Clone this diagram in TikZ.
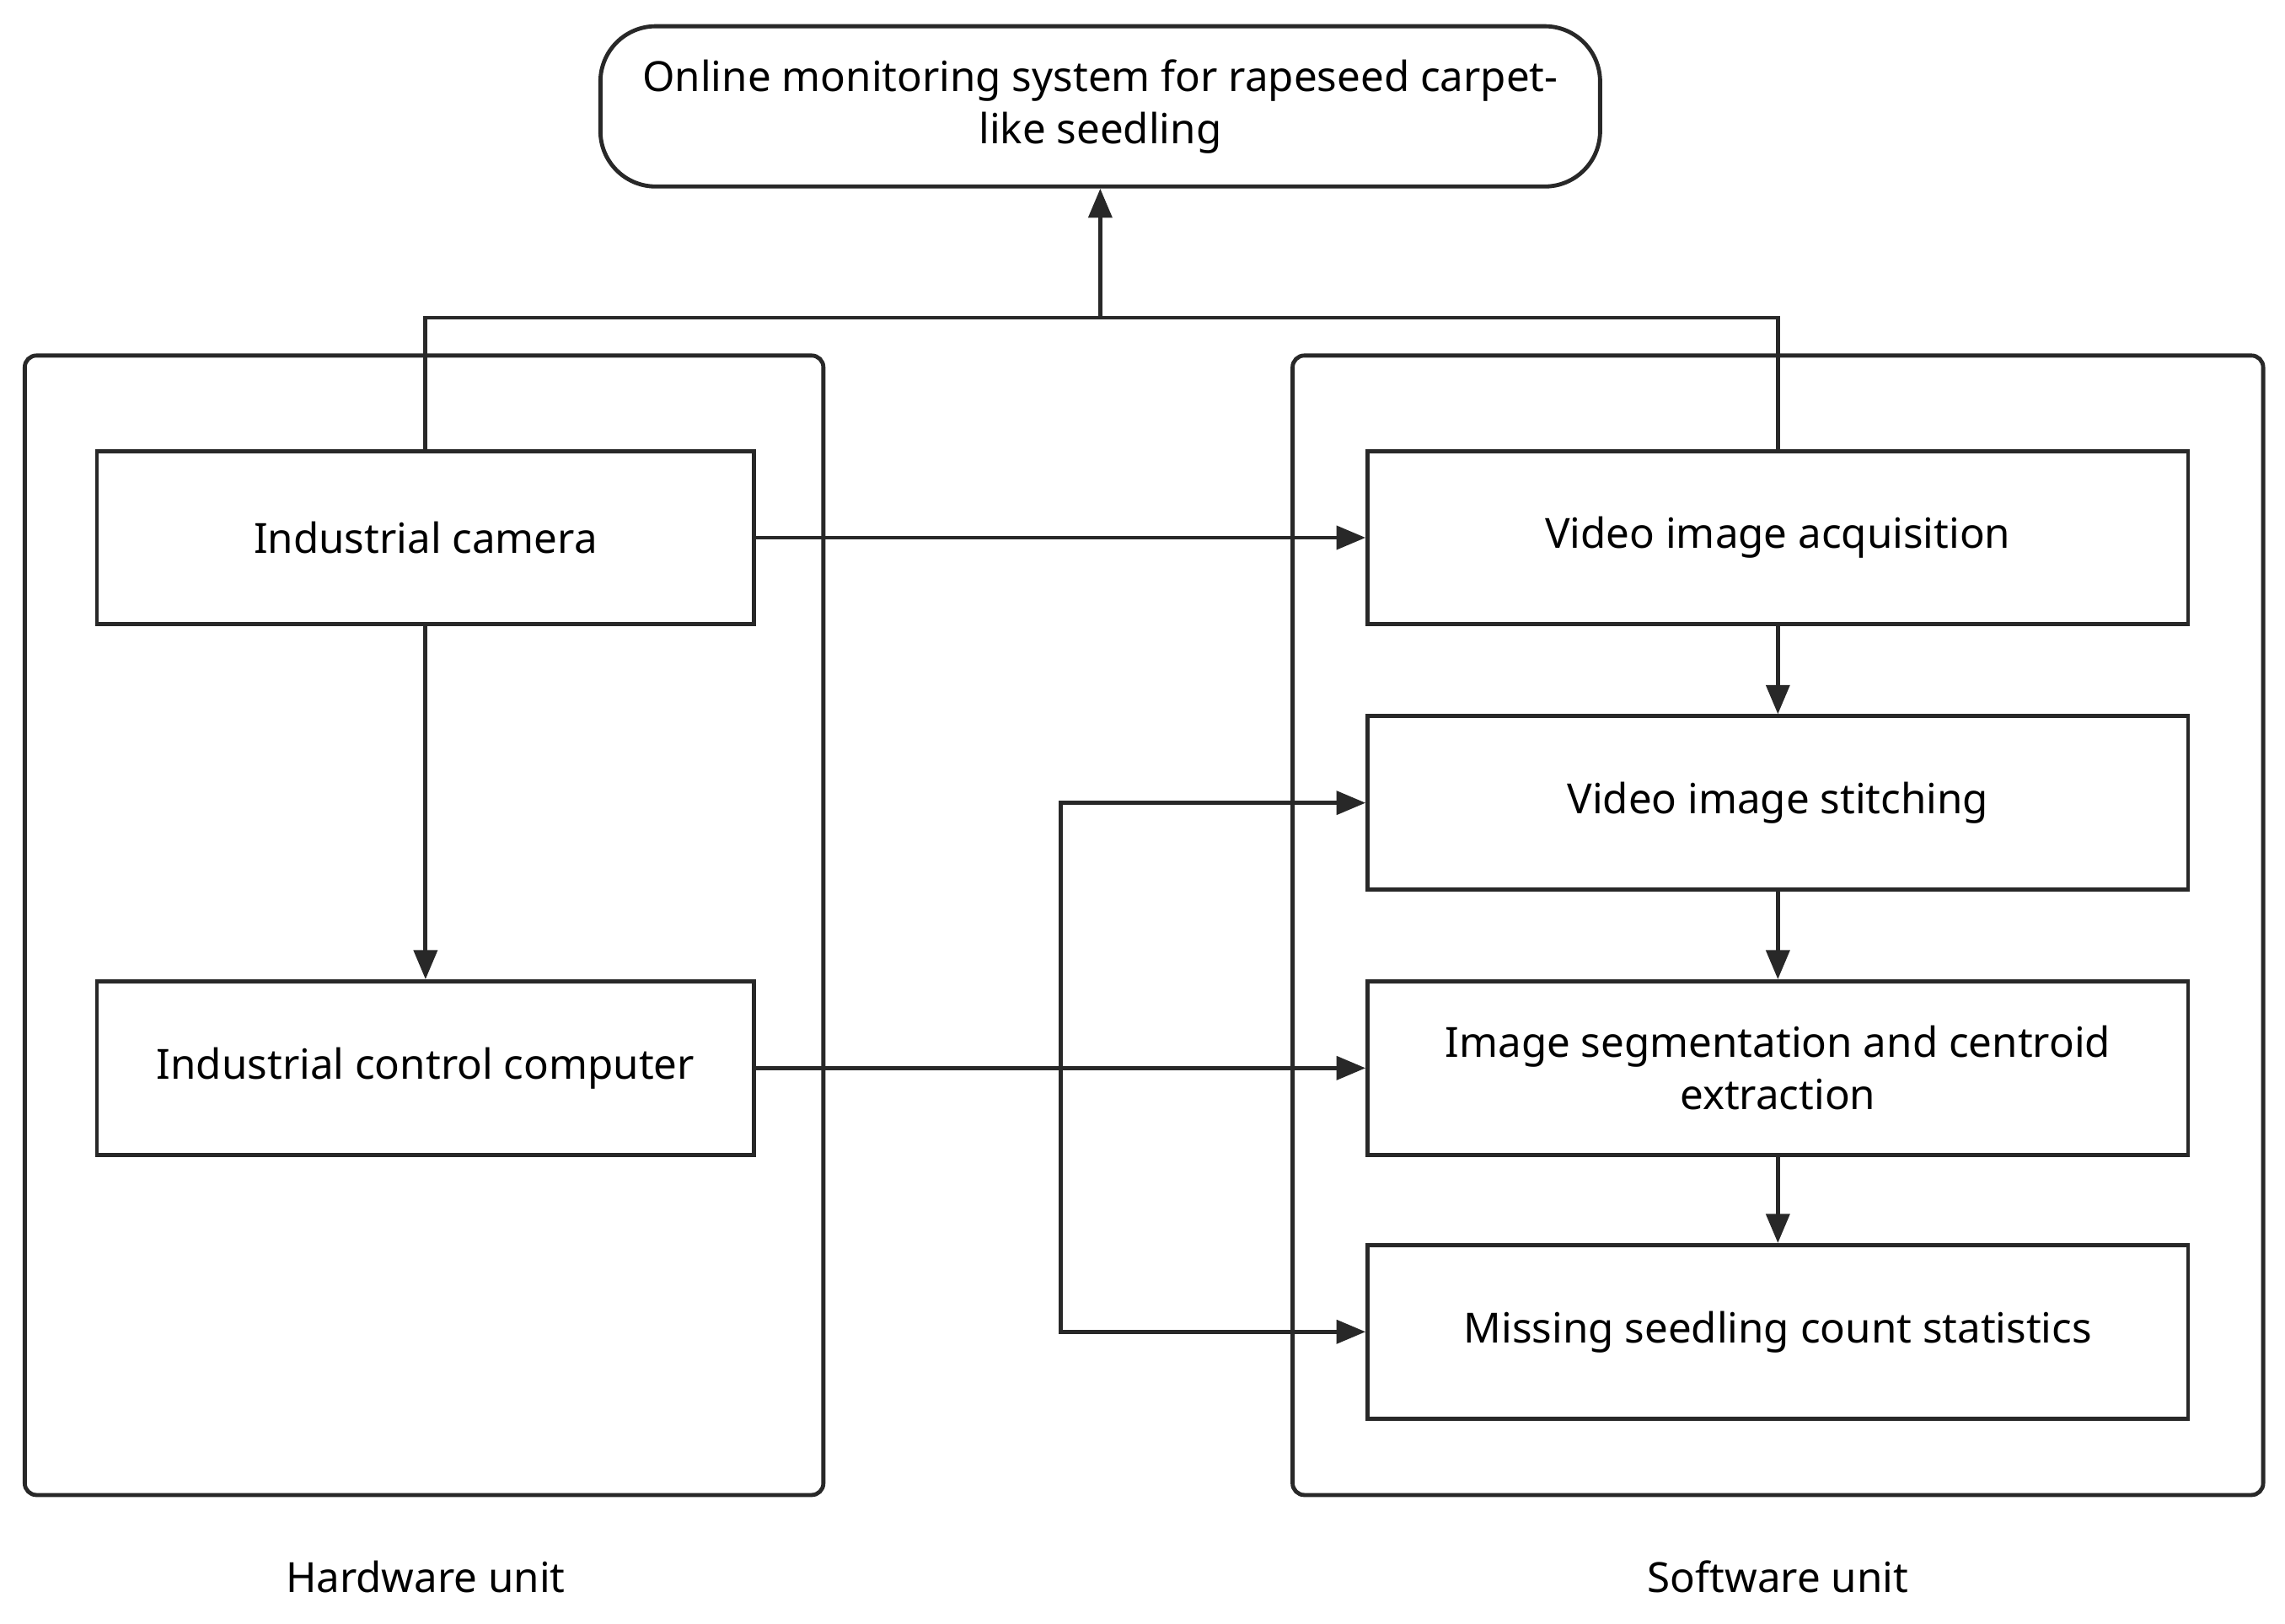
\documentclass[tikz,border=0pt]{standalone}
\usepackage{fontspec}
\setmainfont{Noto Sans}
\usetikzlibrary{arrows.meta}
\begin{document}
\begin{tikzpicture}[x=1pt,y=-1pt,
  line width=2.8pt, draw={rgb,255:red,40;green,40;blue,40},
  box/.style={draw, minimum width=451pt, minimum height=119pt, align=center, font=\fontsize{28.5}{36}\selectfont, inner sep=0pt},
  cont/.style={draw, rounded corners=8pt},
  arr/.style={-{Triangle[length=20pt,width=16pt]}},
  lab/.style={font=\fontsize{28.5}{34}\selectfont}]
\useasboundingbox (0,0) rectangle (1568,1114);
\node[draw, rounded corners=38pt, minimum width=686pt, minimum height=110pt, align=center, font=\fontsize{28.5}{36}\selectfont] (top) at (755,73) {Online monitoring system for rapeseed carpet-\\like seedling};
\draw[cont] (17,244) rectangle (565,1026);
\draw[cont] (887,244) rectangle (1553,1026);
\node[box] (cam) at (292,369) {Industrial camera};
\node[box] (pc) at (292,733) {Industrial control computer};
\node[box, minimum width=563pt] (va) at (1220,369) {Video image acquisition};
\node[box, minimum width=563pt] (st) at (1220,551) {Video image stitching};
\node[box, minimum width=563pt] (seg) at (1220,733) {Image segmentation and centroid\\extraction};
\node[box, minimum width=563pt] (ms) at (1220,914) {Missing seedling count statistics};
\node[lab] (hw) at (292,1082) {Hardware unit};
\node[lab] (sw) at (1220,1082) {Software unit};
\coordinate (j) at (755,218);
\coordinate (b) at (728,733);
\draw (cam.north) |- (j) -| (va.north);
\draw[arr] (j) -- (top.south);
\draw[arr] (cam.east) -- (va.west);
\draw[arr] (cam.south) -- (pc.north);
\draw[arr] (pc.east) -- (seg.west);
\draw[arr] (b) |- (st.west);
\draw[arr] (b) |- (ms.west);
\draw[arr] (va.south) -- (st.north);
\draw[arr] (st.south) -- (seg.north);
\draw[arr] (seg.south) -- (ms.north);
\end{tikzpicture}
\end{document}
